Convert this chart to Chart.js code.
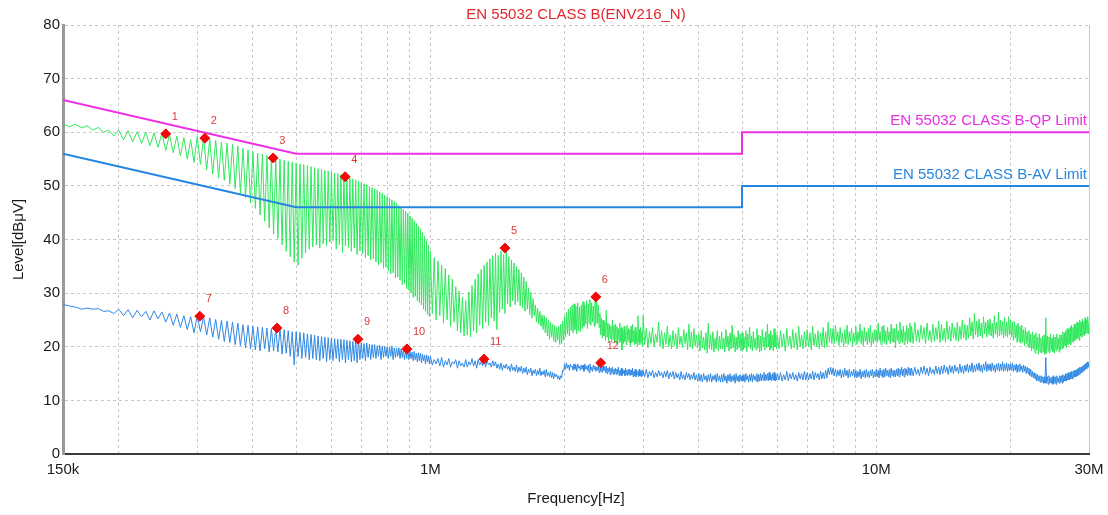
<!DOCTYPE html>
<html>
<head>
<meta charset="utf-8">
<script src="https://cdn.jsdelivr.net/npm/chart.js@4.4.0/dist/chart.umd.min.js"></script>
<style>
  html, body { margin: 0; padding: 0; background: #fff; }
  #wrap { width: 1108px; height: 515px; }
</style>
</head>
<body>
<div id="wrap"><canvas id="emi" width="1108" height="515"></canvas></div>
<script>
// scan frequencies in kHz, shared by both traces
const freqKHz = [
  150, 155, 160, 165, 170, 175, 180, 185, 190, 195,
  // 200k - 1M, 5 kHz
  200, 205, 210, 215, 220, 225, 230, 235, 240, 245,
  250, 255, 260, 265, 270, 275, 280, 285, 290, 295,
  300, 305, 310, 315, 320, 325, 330, 335, 340, 345,
  350, 355, 360, 365, 370, 375, 380, 385, 390, 395,
  400, 405, 410, 415, 420, 425, 430, 435, 440, 445,
  450, 455, 460, 465, 470, 475, 480, 485, 490, 495,
  500, 505, 510, 515, 520, 525, 530, 535, 540, 545,
  550, 555, 560, 565, 570, 575, 580, 585, 590, 595,
  600, 605, 610, 615, 620, 625, 630, 635, 640, 645,
  650, 655, 660, 665, 670, 675, 680, 685, 690, 695,
  700, 705, 710, 715, 720, 725, 730, 735, 740, 745,
  750, 755, 760, 765, 770, 775, 780, 785, 790, 795,
  800, 805, 810, 815, 820, 825, 830, 835, 840, 845,
  850, 855, 860, 865, 870, 875, 880, 885, 890, 895,
  900, 905, 910, 915, 920, 925, 930, 935, 940, 945,
  950, 955, 960, 965, 970, 975, 980, 985, 990, 995,
  // 1M - 3M, 10 kHz
  1000, 1010, 1020, 1030, 1040, 1050, 1060, 1070, 1080, 1090,
  1100, 1110, 1120, 1130, 1140, 1150, 1160, 1170, 1180, 1190,
  1200, 1210, 1220, 1230, 1240, 1250, 1260, 1270, 1280, 1290,
  1300, 1310, 1320, 1330, 1340, 1350, 1360, 1370, 1380, 1390,
  1400, 1410, 1420, 1430, 1440, 1450, 1460, 1470, 1480, 1490,
  1500, 1510, 1520, 1530, 1540, 1550, 1560, 1570, 1580, 1590,
  1600, 1610, 1620, 1630, 1640, 1650, 1660, 1670, 1680, 1690,
  1700, 1710, 1720, 1730, 1740, 1750, 1760, 1770, 1780, 1790,
  1800, 1810, 1820, 1830, 1840, 1850, 1860, 1870, 1880, 1890,
  1900, 1910, 1920, 1930, 1940, 1950, 1960, 1970, 1980, 1990,
  2000, 2010, 2020, 2030, 2040, 2050, 2060, 2070, 2080, 2090,
  2100, 2110, 2120, 2130, 2140, 2150, 2160, 2170, 2180, 2190,
  2200, 2210, 2220, 2230, 2240, 2250, 2260, 2270, 2280, 2290,
  2300, 2310, 2320, 2330, 2340, 2350, 2360, 2370, 2380, 2390,
  2400, 2410, 2420, 2430, 2440, 2450, 2460, 2470, 2480, 2490,
  2500, 2510, 2520, 2530, 2540, 2550, 2560, 2570, 2580, 2590,
  2600, 2610, 2620, 2630, 2640, 2650, 2660, 2670, 2680, 2690,
  2700, 2710, 2720, 2730, 2740, 2750, 2760, 2770, 2780, 2790,
  2800, 2810, 2820, 2830, 2840, 2850, 2860, 2870, 2880, 2890,
  2900, 2910, 2920, 2930, 2940, 2950, 2960, 2970, 2980, 2990,
  // 3M - 6M, 25 kHz
  3000, 3025, 3050, 3075, 3100, 3125, 3150, 3175, 3200, 3225,
  3250, 3275, 3300, 3325, 3350, 3375, 3400, 3425, 3450, 3475,
  3500, 3525, 3550, 3575, 3600, 3625, 3650, 3675, 3700, 3725,
  3750, 3775, 3800, 3825, 3850, 3875, 3900, 3925, 3950, 3975,
  4000, 4025, 4050, 4075, 4100, 4125, 4150, 4175, 4200, 4225,
  4250, 4275, 4300, 4325, 4350, 4375, 4400, 4425, 4450, 4475,
  4500, 4525, 4550, 4575, 4600, 4625, 4650, 4675, 4700, 4725,
  4750, 4775, 4800, 4825, 4850, 4875, 4900, 4925, 4950, 4975,
  5000, 5025, 5050, 5075, 5100, 5125, 5150, 5175, 5200, 5225,
  5250, 5275, 5300, 5325, 5350, 5375, 5400, 5425, 5450, 5475,
  5500, 5525, 5550, 5575, 5600, 5625, 5650, 5675, 5700, 5725,
  5750, 5775, 5800, 5825, 5850, 5875, 5900, 5925, 5950, 5975,
  // 6M - 12M, 50 kHz
  6000, 6050, 6100, 6150, 6200, 6250, 6300, 6350, 6400, 6450,
  6500, 6550, 6600, 6650, 6700, 6750, 6800, 6850, 6900, 6950,
  7000, 7050, 7100, 7150, 7200, 7250, 7300, 7350, 7400, 7450,
  7500, 7550, 7600, 7650, 7700, 7750, 7800, 7850, 7900, 7950,
  8000, 8050, 8100, 8150, 8200, 8250, 8300, 8350, 8400, 8450,
  8500, 8550, 8600, 8650, 8700, 8750, 8800, 8850, 8900, 8950,
  9000, 9050, 9100, 9150, 9200, 9250, 9300, 9350, 9400, 9450,
  9500, 9550, 9600, 9650, 9700, 9750, 9800, 9850, 9900, 9950,
  10000, 10050, 10100, 10150, 10200, 10250, 10300, 10350, 10400, 10450,
  10500, 10550, 10600, 10650, 10700, 10750, 10800, 10850, 10900, 10950,
  11000, 11050, 11100, 11150, 11200, 11250, 11300, 11350, 11400, 11450,
  11500, 11550, 11600, 11650, 11700, 11750, 11800, 11850, 11900, 11950,
  // 12M - 30M, 100 kHz
  12000, 12100, 12200, 12300, 12400, 12500, 12600, 12700, 12800, 12900,
  13000, 13100, 13200, 13300, 13400, 13500, 13600, 13700, 13800, 13900,
  14000, 14100, 14200, 14300, 14400, 14500, 14600, 14700, 14800, 14900,
  15000, 15100, 15200, 15300, 15400, 15500, 15600, 15700, 15800, 15900,
  16000, 16100, 16200, 16300, 16400, 16500, 16600, 16700, 16800, 16900,
  17000, 17100, 17200, 17300, 17400, 17500, 17600, 17700, 17800, 17900,
  18000, 18100, 18200, 18300, 18400, 18500, 18600, 18700, 18800, 18900,
  19000, 19100, 19200, 19300, 19400, 19500, 19600, 19700, 19800, 19900,
  20000, 20100, 20200, 20300, 20400, 20500, 20600, 20700, 20800, 20900,
  21000, 21100, 21200, 21300, 21400, 21500, 21600, 21700, 21800, 21900,
  22000, 22100, 22200, 22300, 22400, 22500, 22600, 22700, 22800, 22900,
  23000, 23100, 23200, 23300, 23400, 23500, 23600, 23700, 23800, 23900,
  24000, 24100, 24200, 24300, 24400, 24500, 24600, 24700, 24800, 24900,
  25000, 25100, 25200, 25300, 25400, 25500, 25600, 25700, 25800, 25900,
  26000, 26100, 26200, 26300, 26400, 26500, 26600, 26700, 26800, 26900,
  27000, 27100, 27200, 27300, 27400, 27500, 27600, 27700, 27800, 27900,
  28000, 28100, 28200, 28300, 28400, 28500, 28600, 28700, 28800, 28900,
  29000, 29100, 29200, 29300, 29400, 29500, 29600, 29700, 29800, 29900,
  30000
];

// green trace (dBuV)
const greenDb = [
  61.6, 61.0, 61.5, 60.8, 61.2, 60.4, 60.9, 60.0, 60.4, 59.3,
  60.4, 58.6, 60.3, 58.2, 60.1, 57.9, 60.0, 57.5, 59.9, 57.2,
  59.8, 56.6, 59.6, 56.2, 59.3, 55.6, 59.0, 55.0, 58.6, 54.4,
  59.2, 54.0, 59.0, 53.0, 58.7, 52.2, 58.5, 51.5, 58.2, 51.0,
  58.0, 50.3, 57.7, 49.5, 57.4, 48.6, 57.0, 47.8, 56.7, 46.8,
  56.4, 45.8, 56.1, 44.6, 55.9, 43.4, 55.7, 42.2, 55.4, 41.0,
  55.2, 40.2, 55.0, 39.0, 54.8, 37.8, 54.6, 36.8, 54.4, 35.8,
  54.3, 35.2, 54.1, 36.5, 54.0, 37.5, 53.8, 38.2, 53.6, 38.6,
  53.4, 39.0, 53.2, 38.4, 53.1, 39.2, 52.9, 38.8, 52.8, 39.5,
  52.6, 39.8, 52.4, 38.2, 52.3, 39.0, 52.1, 37.6, 51.9, 38.8,
  51.7, 38.5, 51.5, 37.8, 51.3, 38.4, 51.1, 37.2, 50.9, 37.9,
  50.6, 37.4, 50.4, 36.6, 50.2, 37.0, 49.9, 36.2, 49.7, 36.4,
  49.5, 35.8, 49.2, 35.2, 48.9, 35.6, 48.6, 34.6, 48.3, 34.8,
  48.0, 34.2, 47.7, 33.6, 47.4, 33.8, 47.1, 32.8, 46.7, 33.0,
  46.3, 32.4, 46.0, 31.6, 45.6, 31.8, 45.3, 30.8, 44.9, 30.6,
  44.4, 30.0, 44.0, 29.2, 43.5, 29.4, 43.0, 28.6, 42.5, 28.2,
  42.0, 27.8, 41.3, 27.0, 40.6, 26.6, 39.8, 26.0, 39.0, 25.6,
  // 1M - 3M
  37.8, 26.2, 36.6, 25.0, 36.0, 25.8, 35.2, 24.4, 34.6, 25.0,
  33.4, 23.8, 32.6, 24.6, 31.2, 23.0, 30.4, 22.6, 29.2, 22.0,
  28.6, 22.2, 30.2, 21.8, 31.4, 23.0, 32.6, 22.6, 33.6, 24.0,
  34.4, 23.4, 35.2, 24.6, 35.8, 24.0, 36.4, 25.4, 37.0, 24.8,
  37.4, 23.2, 37.0, 26.4, 37.8, 27.0, 37.2, 26.2, 38.2, 28.0,
  36.8, 27.4, 36.2, 28.6, 35.6, 27.8, 35.0, 28.4, 34.4, 27.6,
  33.8, 27.2, 33.0, 26.6, 32.2, 27.0, 31.0, 26.0, 30.2, 25.4,
  29.0, 25.8, 27.8, 24.6, 27.2, 24.2, 26.6, 23.8, 26.0, 23.2,
  25.8, 22.6, 25.4, 22.0, 25.0, 21.4, 24.6, 21.8, 24.2, 21.0,
  24.0, 20.8, 23.6, 21.2, 23.8, 20.4, 24.2, 20.6, 24.8, 21.2,
  25.6, 21.8, 26.4, 22.4, 27.0, 22.0, 27.4, 23.0, 27.8, 22.6,
  28.0, 23.2, 27.6, 22.4, 28.2, 23.0, 27.4, 22.8, 27.8, 23.4,
  28.4, 23.8, 27.8, 24.2, 28.6, 23.4, 28.0, 24.4, 28.8, 24.0,
  28.2, 24.6, 27.6, 23.8, 28.4, 24.2, 29.3, 24.4, 27.8, 23.6,
  26.2, 22.2, 25.4, 21.6, 25.0, 22.0, 24.6, 21.2, 26.8, 21.8,
  24.4, 21.0, 24.2, 21.6, 23.8, 20.8, 25.0, 21.4, 24.0, 20.8,
  24.2, 20.6, 23.8, 21.2, 23.4, 20.8, 24.4, 21.0, 23.6, 19.4,
  23.2, 20.6, 23.8, 21.0, 23.0, 20.4, 24.0, 21.2, 23.4, 20.8,
  23.2, 20.2, 23.8, 20.8, 24.2, 21.0, 23.0, 20.4, 23.6, 20.6,
  22.8, 20.2, 25.8, 21.0, 23.2, 20.4, 23.6, 20.8, 22.8, 20.2,
  // 3M - 6M
  25.8, 20.4, 23.4, 19.8, 22.8, 20.6, 23.6, 20.0, 22.4, 20.8,
  24.6, 20.2, 23.0, 19.6, 22.6, 20.4, 23.8, 20.0, 22.2, 19.6,
  23.0, 20.2, 22.4, 19.6, 23.6, 20.4, 22.0, 19.8, 23.2, 20.6,
  22.6, 19.4, 24.2, 20.0, 22.8, 19.6, 23.4, 20.2, 22.2, 19.8,
  22.4, 19.2, 23.0, 19.8, 21.8, 19.4, 22.6, 18.8, 24.4, 19.6,
  22.2, 19.4, 22.8, 19.0, 21.6, 19.6, 23.0, 19.2, 22.0, 19.6,
  22.8, 19.6, 21.6, 19.0, 23.2, 20.0, 22.0, 19.2, 22.6, 19.6,
  24.0, 19.8, 22.2, 19.0, 21.8, 19.4, 23.0, 19.8, 22.4, 19.2,
  22.6, 19.4, 21.8, 19.8, 23.0, 19.0, 22.4, 20.0, 23.6, 19.6,
  22.0, 19.2, 22.8, 19.8, 21.6, 19.4, 23.4, 19.8, 22.2, 19.0,
  22.0, 19.2, 23.2, 20.2, 21.8, 19.4, 22.8, 19.8, 24.2, 20.0,
  22.4, 19.4, 23.0, 19.8, 22.2, 19.2, 23.4, 20.0, 22.6, 19.6,
  // 6M - 12M
  22.2, 19.6, 23.0, 20.0, 22.4, 19.2, 23.4, 20.2, 22.0, 19.6,
  23.2, 19.8, 22.6, 19.4, 23.8, 20.0, 22.2, 19.6, 22.8, 20.0,
  23.2, 20.0, 22.6, 19.4, 23.8, 20.2, 22.4, 20.0, 23.0, 19.6,
  22.6, 20.2, 23.6, 19.8, 22.8, 20.0, 24.6, 20.8, 23.4, 20.6,
  23.4, 20.6, 24.0, 21.0, 22.8, 20.2, 23.6, 20.8, 22.6, 20.0,
  23.2, 20.6, 24.0, 20.4, 22.8, 21.0, 23.4, 20.2, 22.6, 20.8,
  23.8, 20.4, 22.8, 21.0, 24.2, 20.6, 23.0, 20.2, 23.6, 21.0,
  22.8, 20.4, 23.4, 20.8, 24.0, 20.2, 22.6, 20.6, 23.2, 21.0,
  23.2, 20.8, 24.4, 21.2, 22.8, 20.4, 23.8, 21.0, 24.0, 20.6,
  23.0, 20.4, 23.6, 21.2, 22.8, 20.6, 24.2, 21.0, 23.4, 20.8,
  23.4, 19.8, 24.2, 21.2, 23.0, 20.6, 24.6, 21.0, 23.2, 20.8,
  23.8, 20.4, 22.8, 21.2, 24.0, 20.6, 23.4, 21.0, 24.4, 20.8,
  // 12M - 30M
  23.8, 20.6, 24.6, 21.0, 23.2, 20.8, 24.0, 21.4, 23.6, 20.6,
  24.4, 21.2, 23.0, 20.8, 24.2, 21.0, 23.6, 21.4, 24.8, 20.8,
  24.2, 21.2, 23.4, 20.8, 24.8, 21.4, 23.8, 21.0, 24.4, 21.6,
  23.6, 21.2, 24.6, 21.0, 23.8, 21.4, 25.0, 21.6, 24.2, 21.2,
  24.0, 21.6, 25.4, 22.0, 24.6, 21.4, 26.2, 22.2, 24.8, 21.8,
  25.2, 22.0, 24.4, 21.6, 25.6, 22.4, 24.6, 21.8, 25.0, 22.2,
  25.2, 22.0, 24.4, 21.6, 25.8, 22.4, 24.6, 21.8, 26.4, 22.0,
  25.0, 22.2, 24.8, 21.6, 25.4, 22.0, 24.6, 21.8, 25.6, 22.2,
  25.0, 21.8, 24.6, 21.2, 24.8, 21.6, 24.0, 20.8, 24.4, 21.0,
  23.8, 20.6, 24.0, 20.8, 23.2, 20.2, 23.6, 20.6, 22.8, 20.0,
  23.0, 19.8, 22.4, 19.2, 22.8, 19.6, 22.2, 18.8, 22.6, 19.4,
  21.8, 18.6, 22.4, 19.0, 21.6, 18.8, 22.0, 19.0, 22.2, 18.6,
  25.4, 18.8, 22.0, 19.2, 21.8, 18.8, 22.4, 19.4, 21.6, 19.0,
  22.2, 18.8, 21.8, 19.2, 22.4, 19.6, 21.6, 19.0, 22.2, 19.4,
  22.2, 19.6, 22.8, 19.8, 22.6, 20.2, 23.0, 19.8, 23.4, 20.4,
  23.2, 20.6, 23.6, 20.4, 24.0, 21.0, 23.6, 20.8, 24.2, 21.2,
  24.2, 21.4, 24.6, 21.6, 24.4, 21.2, 25.0, 22.0, 24.6, 21.8,
  25.2, 22.2, 24.8, 22.0, 25.4, 22.4, 25.0, 22.6, 25.6, 22.4,
  24.6
];

// blue trace (dBuV)
const blueDb = [
  27.9, 27.6, 27.4, 27.0, 27.2, 27.0, 27.1, 26.6, 26.7, 26.2,
  27.0, 25.8, 26.9, 25.4, 26.8, 25.6, 26.6, 25.0, 26.7, 25.2,
  26.5, 24.6, 26.3, 24.0, 26.1, 23.6, 25.8, 23.2, 25.6, 22.6,
  25.8, 22.8, 25.6, 22.2, 25.4, 21.8, 25.1, 21.4, 24.9, 21.0,
  24.8, 20.8, 24.6, 20.4, 24.4, 20.2, 24.1, 19.8, 24.0, 19.6,
  23.8, 19.4, 23.7, 19.2, 23.6, 19.6, 23.5, 19.0, 23.4, 19.2,
  23.5, 19.0, 23.3, 18.6, 23.2, 18.8, 23.0, 18.2, 22.8, 16.6,
  22.8, 18.2, 22.7, 17.8, 22.6, 18.0, 22.4, 17.6, 22.3, 17.8,
  22.2, 17.6, 22.0, 17.4, 21.9, 17.8, 21.8, 17.2, 21.7, 17.6,
  21.6, 17.4, 21.5, 17.8, 21.4, 17.2, 21.4, 17.6, 21.3, 17.0,
  21.2, 17.6, 21.1, 17.2, 21.0, 17.4, 21.2, 17.0, 21.3, 17.6,
  20.8, 17.8, 20.6, 17.4, 20.7, 18.0, 20.5, 17.6, 20.4, 18.0,
  20.4, 17.8, 20.2, 18.2, 20.3, 17.6, 20.1, 18.0, 20.0, 18.2,
  20.0, 17.8, 19.9, 18.2, 20.1, 17.6, 19.8, 18.0, 19.7, 18.2,
  19.8, 17.8, 19.6, 18.0, 19.5, 17.6, 19.4, 17.8, 19.6, 17.6,
  19.2, 17.8, 19.0, 17.4, 19.1, 17.6, 18.8, 17.2, 18.9, 17.4,
  18.8, 17.0, 18.6, 17.4, 18.4, 16.8, 18.5, 17.2, 18.3, 16.8,
  // 1M - 3M
  18.2, 16.6, 17.6, 16.8, 17.8, 16.4, 18.0, 16.2, 17.4, 16.6,
  17.8, 16.2, 17.2, 16.8, 17.6, 16.0, 17.4, 16.4, 17.0, 16.2,
  17.6, 16.2, 17.2, 16.6, 17.8, 16.4, 17.4, 16.0, 17.6, 16.6,
  17.2, 16.4, 17.8, 16.2, 17.4, 16.6, 17.0, 16.2, 17.4, 16.4,
  17.2, 16.0, 16.8, 15.8, 17.0, 15.6, 16.6, 16.0, 16.8, 15.8,
  16.4, 15.4, 16.8, 15.6, 16.2, 15.4, 16.6, 15.2, 16.2, 15.4,
  16.4, 15.0, 16.0, 15.2, 16.2, 14.8, 15.8, 15.2, 16.0, 14.6,
  15.6, 15.0, 15.8, 14.6, 15.6, 14.8, 16.0, 14.6, 15.4, 14.8,
  15.6, 14.4, 15.8, 14.6, 15.2, 14.4, 15.4, 14.2, 15.2, 14.0,
  15.0, 14.4, 14.8, 14.0, 14.6, 13.8, 14.6, 14.2, 15.6, 15.4,
  16.8, 15.8, 17.0, 16.0, 16.6, 15.6, 16.8, 16.2, 16.4, 15.6,
  16.8, 15.8, 16.6, 15.4, 16.8, 16.0, 16.4, 15.6, 16.6, 15.8,
  16.6, 15.4, 16.8, 15.8, 16.4, 15.6, 16.6, 15.2, 16.8, 15.6,
  16.2, 15.4, 16.6, 15.8, 16.4, 15.4, 16.2, 15.6, 16.6, 15.2,
  17.0, 15.4, 16.6, 15.2, 16.4, 15.6, 16.2, 15.2, 16.4, 15.0,
  16.0, 15.4, 16.2, 14.8, 16.0, 15.2, 16.2, 14.8, 15.8, 15.0,
  16.0, 14.8, 15.8, 15.0, 16.2, 14.6, 15.6, 14.8, 16.0, 14.6,
  15.8, 15.0, 15.6, 14.6, 16.0, 14.8, 15.6, 14.6, 15.8, 14.8,
  15.8, 14.6, 15.6, 14.8, 16.0, 14.4, 15.4, 14.6, 15.8, 14.4,
  15.6, 14.8, 15.4, 14.4, 15.8, 14.6, 15.4, 14.4, 15.6, 14.6,
  // 3M - 6M
  15.6, 14.4, 15.8, 14.2, 15.4, 14.6, 15.6, 14.2, 15.2, 14.4,
  15.6, 14.6, 15.2, 14.2, 15.4, 14.4, 15.6, 14.0, 15.2, 14.4,
  15.4, 14.0, 15.2, 14.2, 15.0, 13.8, 15.4, 14.0, 14.8, 13.8,
  15.2, 14.2, 15.0, 13.8, 14.8, 14.0, 15.2, 13.8, 14.8, 13.6,
  15.0, 13.6, 14.8, 13.4, 15.0, 13.8, 14.6, 13.4, 14.8, 13.6,
  15.0, 13.4, 14.6, 13.8, 14.8, 13.4, 15.0, 13.6, 14.6, 13.4,
  14.8, 13.4, 15.0, 13.6, 14.6, 13.2, 14.8, 13.6, 15.0, 13.4,
  14.6, 13.6, 14.8, 13.2, 15.0, 13.6, 14.6, 13.4, 14.8, 13.6,
  14.6, 13.6, 14.8, 13.4, 15.0, 13.8, 14.6, 13.4, 14.8, 13.6,
  15.0, 13.4, 14.8, 13.8, 14.6, 13.6, 15.0, 13.4, 14.8, 13.6,
  15.0, 13.6, 14.8, 13.8, 15.2, 13.6, 14.8, 13.8, 15.0, 13.6,
  15.2, 13.8, 14.8, 13.6, 15.0, 13.8, 15.2, 13.6, 14.8, 13.8,
  // 6M - 12M
  15.0, 13.8, 15.2, 13.6, 14.8, 13.8, 15.4, 13.6, 15.0, 14.0,
  15.2, 13.8, 14.8, 13.6, 15.2, 14.0, 15.0, 13.8, 15.4, 13.8,
  15.2, 13.8, 15.0, 14.0, 15.4, 13.8, 15.2, 14.2, 15.0, 13.8,
  15.4, 14.0, 15.2, 14.0, 15.6, 14.2, 16.0, 14.8, 16.2, 14.8,
  16.0, 14.6, 15.8, 14.4, 15.6, 14.6, 15.8, 14.2, 15.6, 14.4,
  16.0, 14.6, 15.6, 14.2, 15.8, 14.4, 15.4, 14.6, 15.8, 14.2,
  15.6, 14.2, 15.4, 14.4, 15.8, 14.0, 15.4, 14.4, 15.6, 14.2,
  15.8, 14.4, 15.4, 14.2, 15.6, 14.6, 15.8, 14.2, 15.4, 14.4,
  15.8, 14.4, 15.6, 14.2, 16.0, 14.6, 15.6, 14.2, 15.8, 14.4,
  16.0, 14.6, 15.6, 14.4, 15.8, 14.2, 16.0, 14.6, 15.6, 14.4,
  15.6, 14.4, 15.8, 14.6, 16.0, 14.4, 15.8, 14.8, 16.2, 14.6,
  15.8, 14.4, 16.0, 14.8, 15.8, 14.6, 16.2, 14.8, 16.0, 14.6,
  // 12M - 30M
  16.0, 14.6, 16.2, 14.8, 15.8, 14.6, 16.2, 15.0, 16.4, 14.8,
  16.0, 14.6, 16.2, 15.0, 15.8, 14.8, 16.4, 15.0, 16.2, 14.8,
  16.4, 15.0, 16.6, 15.2, 16.2, 14.8, 16.6, 15.2, 16.4, 15.0,
  16.6, 15.4, 16.2, 15.0, 16.8, 15.2, 16.4, 15.0, 16.6, 15.4,
  16.8, 15.2, 16.6, 15.4, 17.0, 15.2, 16.6, 15.4, 16.8, 15.6,
  17.0, 15.4, 16.6, 15.2, 16.8, 15.6, 17.2, 15.4, 16.8, 15.6,
  16.8, 15.4, 17.0, 15.6, 16.6, 15.2, 16.8, 15.6, 17.0, 15.4,
  16.8, 15.6, 17.2, 15.4, 16.8, 15.6, 17.0, 15.4, 16.8, 15.6,
  16.8, 15.6, 17.0, 15.4, 16.6, 15.6, 16.8, 15.2, 16.6, 15.4,
  16.8, 15.6, 16.4, 15.2, 16.6, 15.4, 16.4, 15.0, 16.2, 15.0,
  16.0, 14.6, 15.8, 14.4, 15.4, 14.2, 15.2, 14.0, 15.0, 13.6,
  14.8, 13.6, 14.6, 13.4, 14.6, 13.4, 14.4, 13.2, 14.4, 13.2,
  18.0, 13.2, 14.4, 13.0, 14.6, 13.2, 14.2, 13.2, 14.4, 13.0,
  14.6, 13.2, 14.4, 13.0, 14.6, 13.4, 14.2, 13.2, 14.6, 13.4,
  14.6, 13.2, 14.8, 13.4, 14.6, 13.6, 15.0, 13.6, 15.0, 13.8,
  15.2, 13.8, 15.2, 14.0, 15.4, 14.0, 15.4, 14.2, 15.6, 14.4,
  15.6, 14.4, 15.8, 14.6, 16.0, 14.8, 16.2, 15.0, 16.2, 15.2,
  16.4, 15.4, 16.6, 15.6, 16.8, 15.8, 17.0, 16.0, 17.2, 16.2,
  17.2
];

// limit lines (EN 55032 class B)
const limitHz = [150000, 500000, 5000000, 5000000, 30000000];
const qpLimitDb = [66, 56, 56, 60, 60];
const avLimitDb = [56, 46, 46, 50, 50];

// marked peaks
const markerKHz = [255, 312, 444, 644, 1470, 2350, 304, 453, 688, 886, 1319, 2410];
const markerDb = [59.7, 58.9, 55.2, 51.7, 38.4, 29.3, 25.7, 23.5, 21.4, 19.6, 17.7, 17.0];
const markerText = ['1', '2', '3', '4', '5', '6', '7', '8', '9', '10', '11', '12'];

// x axis grid and labels
const xGridHz = [150000, 200000, 300000, 400000, 500000, 600000, 700000, 800000, 900000,
  1000000, 2000000, 3000000, 4000000, 5000000, 6000000, 7000000, 8000000, 9000000,
  10000000, 20000000, 30000000];
const xLabelHz = [150000, 1000000, 10000000, 30000000];
const xLabelText = ['150k', '1M', '10M', '30M'];

const FONT = '"Liberation Sans", Arial, sans-serif';

const pts = (xs, ys) => ys.map((y, i) => ({ x: xs[i], y: y }));
const traceHz = freqKHz.map(f => f * 1000);

const emiText = {
  id: 'emiText',
  afterDraw(chart) {
    const { ctx, chartArea, scales } = chart;
    ctx.save();
    // title
    ctx.font = '15px ' + FONT;
    ctx.fillStyle = '#e3262b';
    ctx.textAlign = 'center';
    ctx.textBaseline = 'middle';
    ctx.fillText('EN 55032 CLASS B(ENV216_N)', (chartArea.left + chartArea.right) / 2, 15);
    // limit names
    ctx.textAlign = 'right';
    ctx.textBaseline = 'alphabetic';
    ctx.fillStyle = '#e62fe0';
    ctx.fillText('EN 55032 CLASS B-QP Limit', chartArea.right - 2,
      scales.y.getPixelForValue(qpLimitDb[qpLimitDb.length - 1]) - 7);
    ctx.fillStyle = '#2a86e0';
    ctx.fillText('EN 55032 CLASS B-AV Limit', chartArea.right - 2,
      scales.y.getPixelForValue(avLimitDb[avLimitDb.length - 1]) - 7);
    // marker numbers
    const meta = chart.getDatasetMeta(0);
    ctx.font = '11px ' + FONT;
    ctx.fillStyle = '#d83a3a';
    ctx.textAlign = 'left';
    meta.data.forEach((p, i) => {
      ctx.fillText(markerText[i], p.x + 6, p.y - 14);
    });
    ctx.restore();
  }
};

new Chart(document.getElementById('emi'), {
  type: 'line',
  data: {
    datasets: [
      {
        label: 'Markers',
        data: pts(markerKHz.map(f => f * 1000), markerDb),
        showLine: false,
        pointStyle: 'rectRot',
        pointRadius: 5,
        backgroundColor: '#ee0a0a',
        borderColor: '#ee0a0a',
        borderWidth: 1,
        order: 0
      },
      {
        label: 'QP Limit',
        data: pts(limitHz, qpLimitDb),
        borderColor: '#ee30e6',
        borderWidth: 2,
        pointRadius: 0,
        order: 1
      },
      {
        label: 'AV Limit',
        data: pts(limitHz, avLimitDb),
        borderColor: '#2486e2',
        borderWidth: 2,
        pointRadius: 0,
        order: 2
      },
      {
        label: 'AV trace',
        data: pts(traceHz, blueDb),
        borderColor: '#2f88e4',
        borderWidth: 1,
        pointRadius: 0,
        order: 3
      },
      {
        label: 'Peak trace',
        data: pts(traceHz, greenDb),
        borderColor: '#30e85c',
        borderWidth: 1,
        pointRadius: 0,
        order: 4
      }
    ]
  },
  options: {
    responsive: false,
    animation: false,
    events: [],
    layout: { padding: { top: 25, right: 19, left: 0, bottom: 0 } },
    plugins: {
      legend: { display: false },
      title: { display: false },
      tooltip: { enabled: false }
    },
    scales: {
      x: {
        type: 'logarithmic',
        min: 150000,
        max: 30000000,
        afterBuildTicks: s => { s.ticks = xGridHz.map(v => ({ value: v })); },
        afterFit: s => { s.height = 61; },
        ticks: {
          autoSkip: false,
          maxRotation: 0,
          padding: 0,
          color: '#1a1a1a',
          font: { family: FONT, size: 15 },
          callback: v => {
            const i = xLabelHz.indexOf(v);
            return i >= 0 ? xLabelText[i] : '';
          }
        },
        grid: {
          color: '#c8c8c8',
          lineWidth: 1,
          drawTicks: true,
          tickLength: 7,
          tickColor: 'rgba(0,0,0,0)'
        },
        border: {
          color: '#3a3a3a',
          width: 2,
          dash: c => (c.tick && c.tick.value === 30000000) ? [] : [3, 3]
        },
        title: {
          display: true,
          text: 'Frequency[Hz]',
          color: '#1a1a1a',
          font: { family: FONT, size: 15 },
          padding: { top: 0, bottom: 7 }
        }
      },
      y: {
        min: 0,
        max: 80,
        afterFit: s => { s.width = 63; },
        ticks: {
          stepSize: 10,
          padding: 3,
          color: '#1a1a1a',
          font: { family: FONT, size: 15 }
        },
        grid: { color: '#c8c8c8', lineWidth: 1, drawTicks: false },
        border: { color: '#9a9a9a', width: 3, dash: [3, 3] },
        title: {
          display: true,
          text: 'Level[dBμV]',
          color: '#1a1a1a',
          font: { family: FONT, size: 15 },
          padding: { top: 10, bottom: 0 }
        }
      }
    }
  },
  plugins: [emiText]
});
</script>
</body>
</html>
